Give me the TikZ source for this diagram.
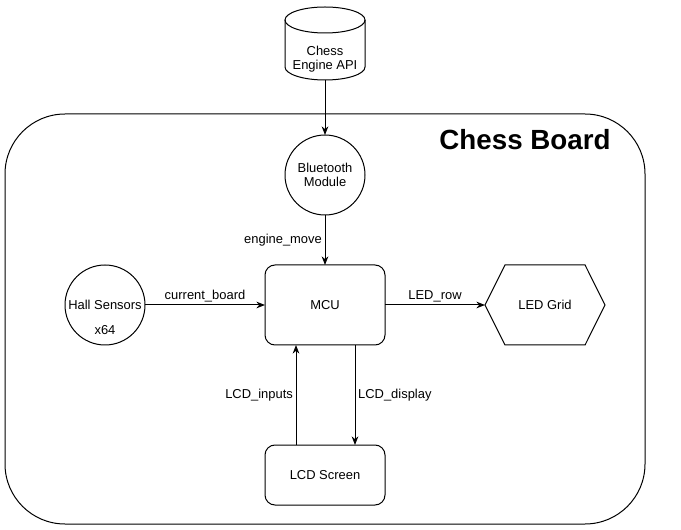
\documentclass[tikz,border=0pt]{standalone}
\usepackage{fontspec}
\setmainfont{Liberation Sans}
\usetikzlibrary{shapes.geometric,shapes.symbols,arrows.meta}

\begin{document}
\begin{tikzpicture}[x=0.75pt,y=0.75pt,yscale=-1,xscale=1,
    every node/.style={font=\fontsize{9.7}{11}\selectfont},
    unit/.style={draw, line width=0.75pt, rounded corners=7.5pt, minimum width=90pt, outer sep=0pt},
    circ/.style={draw, line width=0.75pt, circle, minimum size=60pt, inner sep=0pt, outer sep=0pt},
    flow/.style={line width=0.75pt, -{Stealth[length=6.5pt,width=5pt]}},
    tag/.style={inner sep=2pt}]
    \useasboundingbox (0,0) rectangle (681,530);

    %Rounded Rect: board outline
    \node[draw, line width=0.75pt, rounded corners=45pt, minimum width=480pt, minimum height=307.5pt] (board) at (325,319) {};
    \node[font=\bfseries\fontsize{20.8}{24}\selectfont] (title) at (525,140) {Chess Board};

    %Shape: Can
    \node[minimum width=60pt, minimum height=54.75pt, inner sep=0pt, outer sep=0pt] (api) at (325,43.5) {};
    \draw[line width=0.75pt] (325,20) ellipse [x radius=40, y radius=13];
    \draw[line width=0.75pt] (285,20) -- (285,67) arc [start angle=180, end angle=0, x radius=40, y radius=13] -- (365,20);
    \node[align=center] (apitext) at (325,59) {Chess\\Engine API};

    %Shape: Circle
    \node[circ, align=center] (bt) at (325,175) {Bluetooth\\Module};
    \node[circ] (hall) at (105,305) {Hall Sensors};
    \node (hallnum) at (105,330) {x64};

    %Rounded Rect
    \node[unit, minimum height=60pt] (mcu) at (325,305) {MCU};
    \node[unit, minimum height=45pt] (lcd) at (325,475) {LCD Screen};

    %Shape: Hexagon
    \node[draw, line width=0.75pt, signal, signal to=east and west, signal pointer angle=127, minimum width=90pt, minimum height=60pt, outer sep=0pt] (led) at (545,305) {LED Grid};

    %Straight Lines
    \draw[flow] (api.south) -- (bt.north);
    \draw[flow] (bt.south) -- node[tag, left] {engine\_move} (mcu.north);
    \draw[flow] (hall.east) -- node[tag, above] {current\_board} (mcu.west);
    \draw[flow] (mcu.east) -- node[tag, above] {LED\_row} (led.west);
    \draw[flow] ([xshift=-21.75pt]lcd.north) -- node[tag, left] {LCD\_inputs} ([xshift=-21.75pt]mcu.south);
    \draw[flow] ([xshift=22.5pt]mcu.south) -- node[tag, right] {LCD\_display} ([xshift=22.5pt]lcd.north);
\end{tikzpicture}
\end{document}
